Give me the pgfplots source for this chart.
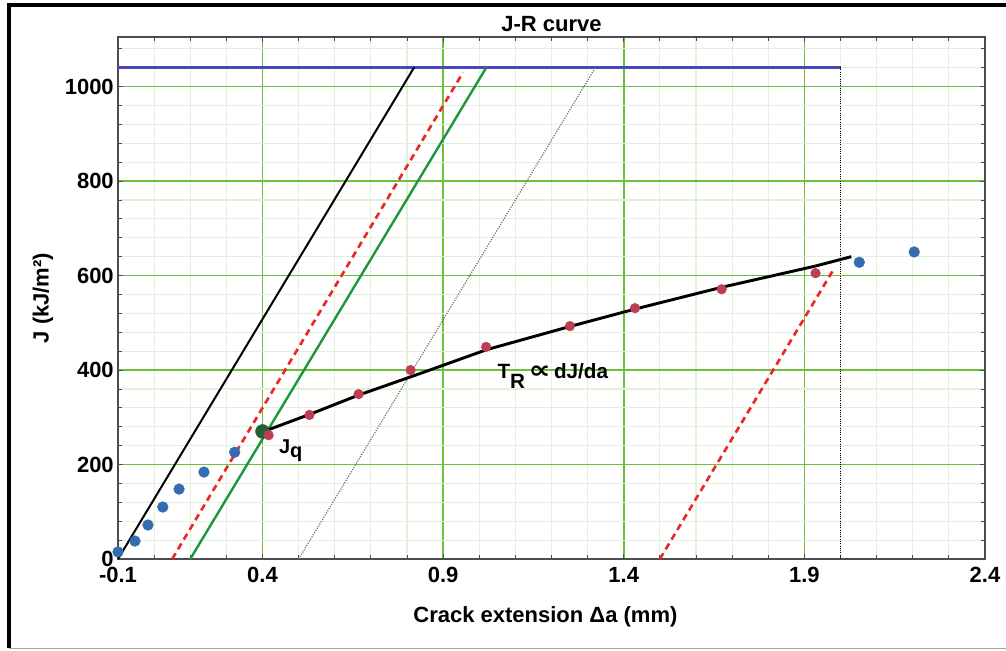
\documentclass[border=0pt]{standalone}
\usepackage{fontspec}
\setmainfont{Liberation Sans}
\newfontfamily\dejavu{DejaVu Sans}
\usepackage{graphicx}
\usepackage{pgfplots}
\pgfplotsset{compat=1.18}
\definecolor{gmaj}{RGB}{112,190,62}
\definecolor{gmin}{RGB}{226,242,216}
\definecolor{bpt}{RGB}{52,108,178}
\definecolor{rpt}{RGB}{190,62,84}
\definecolor{jqc}{RGB}{40,95,55}
\definecolor{lblue}{RGB}{72,72,190}
\definecolor{lred}{RGB}{235,40,40}
\definecolor{lgreen}{RGB}{30,150,60}
\begin{document}
\begin{tikzpicture}
\path[use as bounding box] (0,0) rectangle (754.5pt,487.5pt);
\draw[line width=3pt] (6.75pt,1.5pt) -- (6.75pt,483.5pt) -- (760pt,483.5pt);
\draw[black!35, line width=1pt] (6.75pt,1.2pt) -- (760pt,1.2pt);
\begin{axis}[
  at={(88.5pt,68.25pt)}, anchor=south west,
  scale only axis, width=650.25pt, height=391.5pt,
  xmin=0, xmax=2.4, ymin=0, ymax=1105,
  xtick={0,0.4,0.9,1.4,1.9,2.4},
  xticklabels={-0.1,0.4,0.9,1.4,1.9,2.4},
  minor xtick={0.1,0.2,0.3,0.5,0.6,0.7,0.8,1.0,1.1,1.2,1.3,1.5,1.6,1.7,1.8,2.0,2.1,2.2,2.3},
  ytick={0,200,400,600,800,1000},
  minor ytick={40,80,120,160,240,280,320,360,440,480,520,560,640,680,720,760,840,880,920,960,1040,1080},
  grid=both,
  major grid style={gmaj, line width=1.3pt},
  minor grid style={gmin, line width=0.9pt},
  axis line style={black!70, line width=1pt},
  tick style={black!70, line width=0.6pt},
  tick align=inside,
  major tick length=4pt, minor tick length=3pt,
  /pgf/number format/assume math mode=true,
  /pgf/number format/1000 sep={},
  tick label style={font=\fontsize{16.5}{19}\selectfont\bfseries},
  xticklabel style={yshift=-5pt, inner sep=1pt},
  yticklabel style={inner sep=1pt, xshift=-2pt},
  label style={font=\fontsize{16.5}{19}\selectfont\bfseries},
  xlabel={Crack extension Δa (mm)},
  ylabel={J (kJ/m²)},
  xlabel style={at={(axis description cs:0.493,-0.111)}, anchor=center},
  ylabel style={at={(axis description cs:-0.0865,0.5)}, anchor=center},
  clip=false,
]
\addplot[lblue, line width=2pt] coordinates {(0,1041) (2.0,1041)};
\addplot[black, densely dotted, line width=0.7pt] coordinates {(2.0,1041) (2.0,0)};
\addplot[black, line width=1.5pt] coordinates {(0,0) (0.82,1041)};
\addplot[lred, line width=2pt, dash pattern=on 5pt off 3.5pt] coordinates {(0.15,0) (0.955,1030)};
\addplot[lgreen, line width=1.8pt] coordinates {(0.2,0) (1.02,1041)};
\addplot[black!55, densely dotted, line width=0.9pt] coordinates {(0.5,0) (1.322,1041)};
\addplot[lred, line width=2pt, dash pattern=on 5pt off 3.5pt] coordinates {(1.5,0) (1.98,612)};
\addplot[only marks, mark=*, mark size=4pt, bpt] coordinates {
 (0.0,15) (0.047,38) (0.083,72) (0.124,110) (0.169,148) (0.238,184) (0.323,226)
 (2.052,628) (2.204,650)};
\addplot[only marks, mark=*, mark size=5.2pt, jqc] coordinates {(0.40,270)};
\addplot[only marks, mark=*, mark size=3.6pt, rpt] coordinates {
 (0.417,262) (0.53,305) (0.666,349) (0.81,400) (1.019,449) (1.251,493)
 (1.431,531) (1.671,571) (1.931,605)};
\addplot[black, line width=2.2pt] coordinates {
 (0.40,269) (0.53,306) (0.666,347) (0.834,392) (1.02,443) (1.25,492)
 (1.431,529) (1.67,575) (1.93,620) (2.03,640)};
\node[anchor=center, font=\fontsize{16.5}{19}\selectfont\bfseries]
  at (axis description cs:0.5,1.025) {J-R curve};
\node[anchor=base west, font=\fontsize{15}{18}\selectfont\bfseries, inner sep=0pt]
  at (axis cs:0.445,224) {J\raisebox{-3.5pt}{q}};
\node[anchor=base west, font=\fontsize{15.5}{18}\selectfont\bfseries, inner sep=0pt]
  at (axis cs:1.050,383) {T\raisebox{-8pt}{R}\,{\dejavu\scalebox{1.5}[1.2]{∝}}\,dJ/da};
\end{axis}
\end{tikzpicture}
\end{document}
